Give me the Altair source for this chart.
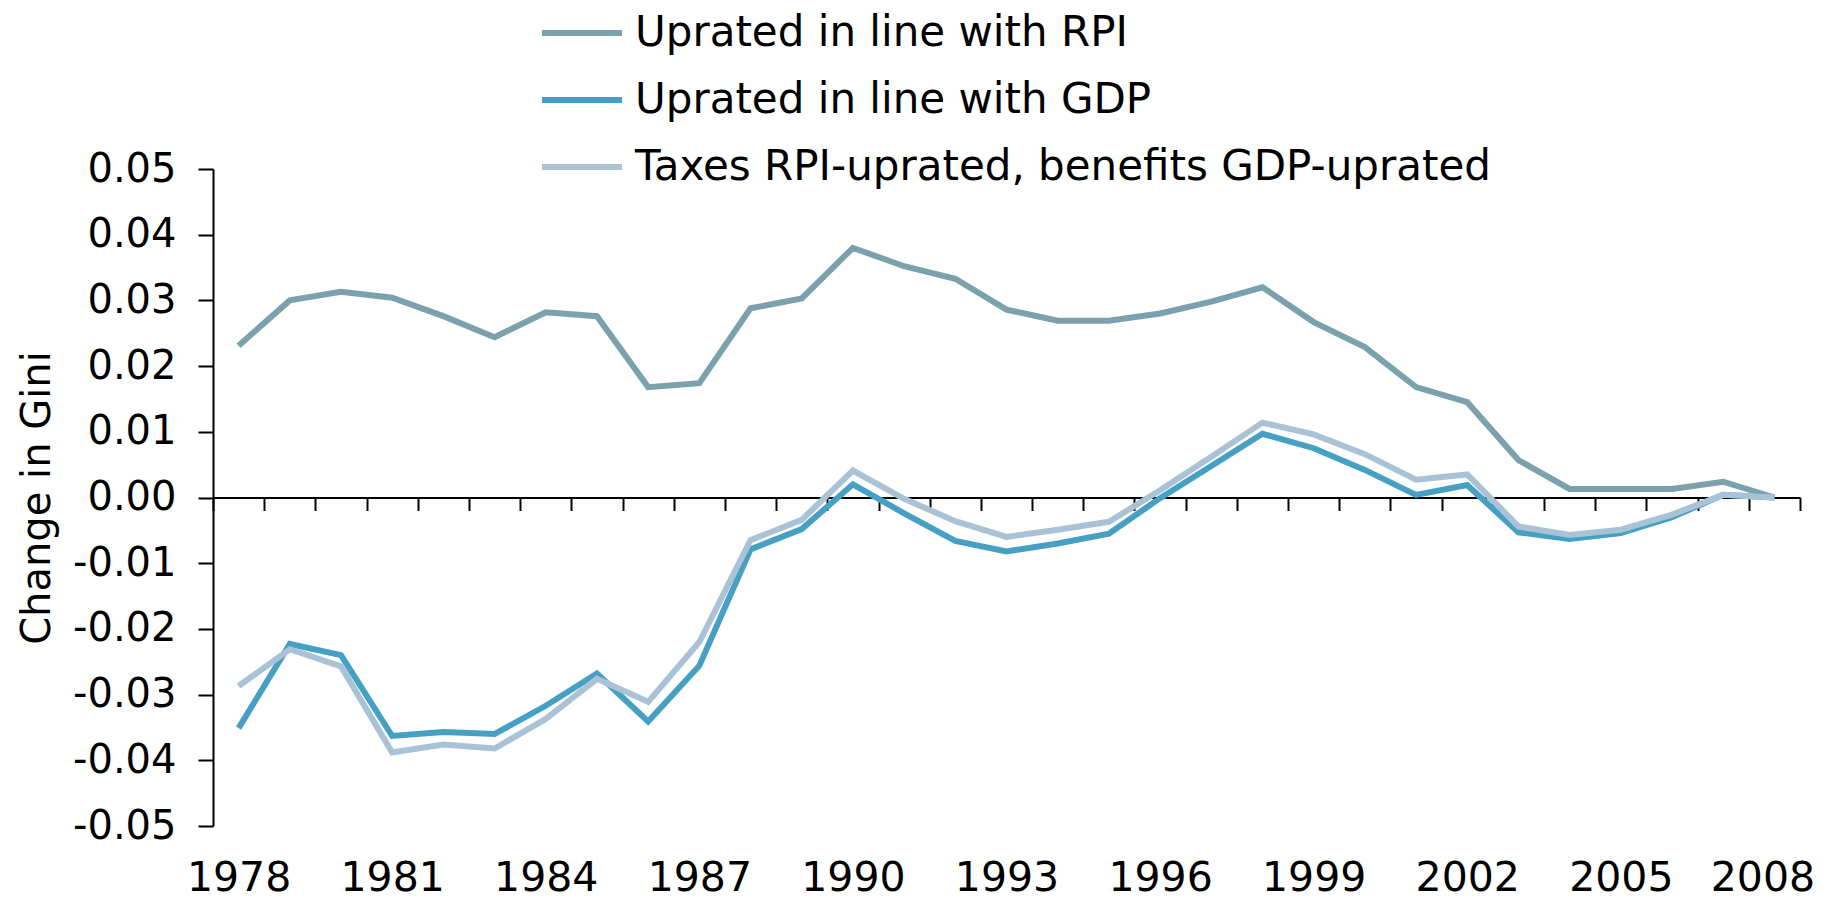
import altair as alt
import pandas as pd

years = list(range(1978, 2009))

rpi = [0.0231, 0.0300, 0.0313, 0.0304, 0.0276, 0.0244, 0.0282, 0.0276, 0.0168, 0.0174,
       0.0288, 0.0303, 0.0380, 0.0352, 0.0333, 0.0286, 0.0269, 0.0269, 0.0280, 0.0298,
       0.0320, 0.0267, 0.0229, 0.0168, 0.0145, 0.0057, 0.0013, 0.0013, 0.0013, 0.0024,
       0.0000]

gdp = [-0.0351, -0.0223, -0.0240, -0.0363, -0.0357, -0.0360, -0.0317, -0.0268, -0.0341, -0.0256,
       -0.0079, -0.0048, 0.0020, -0.0024, -0.0066, -0.0082, -0.0070, -0.0055, -0.0001, 0.0048,
       0.0097, 0.0075, 0.0042, 0.0004, 0.0019, -0.0053, -0.0063, -0.0054, -0.0030, 0.0004,
       0.0000]

taxes = [-0.0287, -0.0231, -0.0257, -0.0388, -0.0376, -0.0382, -0.0337, -0.0276, -0.0311, -0.0220,
         -0.0065, -0.0034, 0.0041, -0.0002, -0.0036, -0.0060, -0.0049, -0.0037, 0.0011, 0.0062,
         0.0114, 0.0096, 0.0066, 0.0027, 0.0035, -0.0044, -0.0057, -0.0049, -0.0026, 0.0004,
         0.0000]

series_names = ["Uprated in line with RPI",
                "Uprated in line with GDP",
                "Taxes RPI-uprated, benefits GDP-uprated"]
series_colors = ["#7BA1AC", "#46A0C4", "#A9C2D6"]

y_tick_values = [-0.05, -0.04, -0.03, -0.02, -0.01, 0.0, 0.01, 0.02, 0.03, 0.04, 0.05]
x_label_years = list(range(1978, 2009, 3))
x_tick_positions = [y - 0.5 for y in range(1978, 2010)]

rows = []
for name, vals in zip(series_names, [rpi, gdp, taxes]):
    for yr, v in zip(years, vals):
        rows.append({"year": yr, "series": name, "value": v})
df = pd.DataFrame(rows)

FONT = "DejaVu Sans"
PLOT_W = 1587
PLOT_H = 657

xscale = alt.Scale(domain=[1977.5, 2008.5], nice=False, zero=False)
yscale = alt.Scale(domain=[-0.05, 0.05], nice=False, zero=False)

y_axis = alt.Axis(values=y_tick_values, orient="left",
                  labelExpr="replace(format(datum.value, '.2f'), '\u2212', '-')",
                  domain=True, domainColor="black", domainWidth=2,
                  ticks=True, tickSize=15, tickWidth=2, tickColor="black",
                  grid=False, labelFontSize=40, labelFont=FONT, labelColor="black",
                  labelPadding=22, title="Change in Gini", titleFontSize=40,
                  titleFont=FONT, titleFontWeight="normal", titleColor="black",
                  titlePadding=15)

lines = alt.Chart(df).mark_line(strokeWidth=6).encode(
    x=alt.X("year:Q", scale=xscale,
            axis=alt.Axis(values=x_label_years, format="d", orient="bottom",
                          ticks=False, tickSize=0, domain=False, grid=False,
                          labelFontSize=41, labelFont=FONT, labelColor="black",
                          labelPadding=32, labelFlush=False,
                          labelOffset=alt.ExprRef(expr="datum.value == 2008 ? -12 : 0"),
                          title=None)),
    y=alt.Y("value:Q", scale=yscale, axis=y_axis),
    color=alt.Color("series:N",
                    scale=alt.Scale(domain=series_names, range=series_colors),
                    legend=alt.Legend(orient="none", legendX=326, legendY=-179,
                                      title=None, labelFontSize=42, labelFont=FONT,
                                      labelColor="black", labelLimit=2000,
                                      symbolType="stroke", symbolStrokeWidth=6,
                                      symbolSize=6400, labelOffset=10,
                                      rowPadding=3, padding=0, offset=0)),
)

zero_axis = alt.Chart(df).mark_line(opacity=0).encode(
    x=alt.X("year:Q", scale=xscale,
            axis=alt.Axis(values=x_tick_positions, orient="bottom", offset=-PLOT_H / 2,
                          labels=False, ticks=True, tickSize=13, tickWidth=2,
                          tickColor="black", domain=True, domainColor="black",
                          domainWidth=2, grid=False, title=None)),
    y=alt.Y("value:Q", scale=yscale, axis=y_axis),
    detail="series:N",
)

chart = alt.layer(lines, zero_axis).resolve_axis(x="independent").properties(
    width=PLOT_W,
    height=PLOT_H,
    autosize=alt.AutoSizeParams(type="none"),
    padding={"left": 205, "top": 161, "right": 22, "bottom": 74},
    background="white",
).configure_view(stroke=None)

chart.save("out.html", embed_options={"renderer": "svg", "actions": False})
